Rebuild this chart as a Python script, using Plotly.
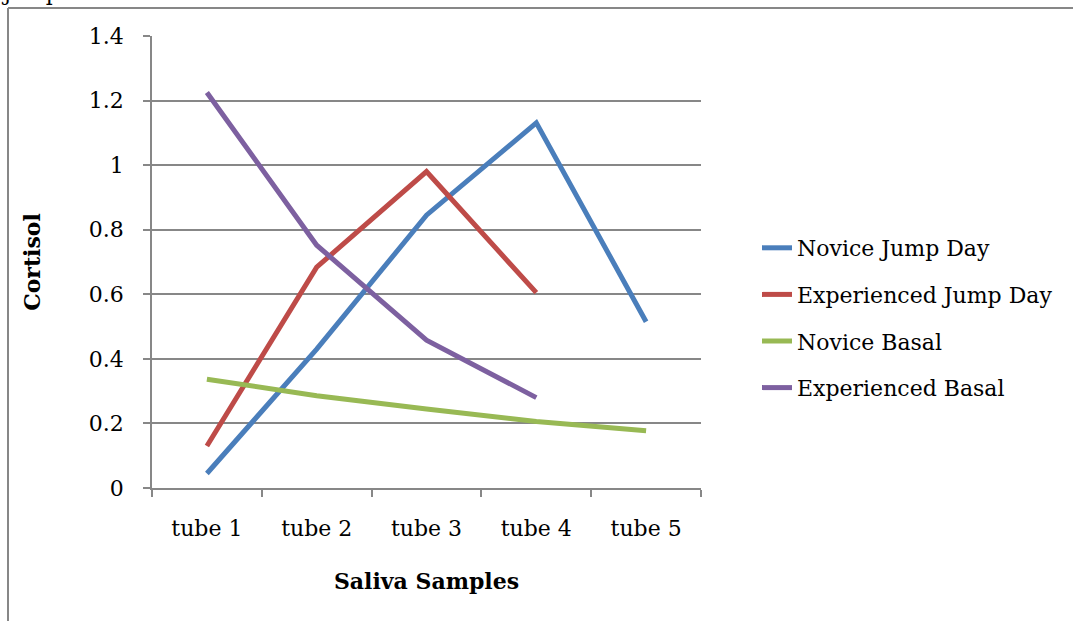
import plotly.graph_objects as go

categories = ["tube 1", "tube 2", "tube 3", "tube 4", "tube 5"]
novice_jump = [0.045, 0.43, 0.845, 1.131, 0.515]
experienced_jump = [0.13, 0.684, 0.98, 0.605, None]
novice_basal = [0.337, 0.286, 0.245, 0.206, 0.177]
experienced_basal = [1.225, 0.752, 0.458, 0.280, None]
y_ticks = [0, 0.2, 0.4, 0.6, 0.8, 1.0, 1.2, 1.4]
y_tick_text = ["0", "0.2", "0.4", "0.6", "0.8", "1", "1.2", "1.4"]

series = [
    ("Novice Jump Day", novice_jump, "#4A7EBB"),
    ("Experienced Jump Day", experienced_jump, "#BE4B48"),
    ("Novice Basal", novice_basal, "#98B954"),
    ("Experienced Basal", experienced_basal, "#7D60A0"),
]

FONT = "DejaVu Serif"
GRAY = "#878787"
FS = 22

fig = go.Figure()
for name, vals, color in series:
    fig.add_trace(go.Scatter(
        x=categories, y=vals, name=name, mode="lines",
        line=dict(color=color, width=5), legendgroup=name,
        connectgaps=False,
    ))

L, R, T, B = 152, 372, 36, 133
W, H = 1073, 621
pw, ph = W - L - R, H - T - B

def px_x(x):
    return (x - L) / pw

def px_y(y):
    return (H - B - y) / ph

fig.update_layout(
    width=W, height=H,
    margin=dict(l=L, r=R, t=T, b=B, pad=0),
    paper_bgcolor="white", plot_bgcolor="white",
    font=dict(family=FONT, size=FS, color="black"),
    showlegend=True,
    legend=dict(
        x=px_x(757), xanchor="left", y=px_y(318), yanchor="middle",
        traceorder="grouped", tracegroupgap=15,
        font=dict(family=FONT, size=FS, color="black"),
        bgcolor="rgba(0,0,0,0)",
    ),
    xaxis=dict(
        type="category", range=[-0.5, 4.5], tickson="boundaries",
        showline=True, linecolor=GRAY, linewidth=1.5,
        ticks="outside", ticklen=7, tickcolor=GRAY, tickwidth=1.5,
        showgrid=False, zeroline=False,
        ticklabelstandoff=20,
        tickfont=dict(family=FONT, size=FS),
        title=dict(text="<b>Saliva Samples</b>", font=dict(family=FONT, size=FS), standoff=33),
    ),
    yaxis=dict(
        range=[0, 1.4], tickvals=y_ticks, ticktext=y_tick_text,
        showline=True, linecolor=GRAY, linewidth=1.5,
        ticks="outside", ticklen=7, tickcolor=GRAY, tickwidth=1.5,
        showgrid=True, gridcolor=GRAY, gridwidth=1.5,
        zeroline=False, ticklabelstandoff=15,
        tickfont=dict(family=FONT, size=FS),
        title=dict(text="<b>Cortisol</b>", font=dict(family=FONT, size=FS), standoff=42),
    ),
)

# page frame lines
fig.add_shape(type="line", xref="paper", yref="paper",
              x0=px_x(8), x1=px_x(1073), y0=px_y(8), y1=px_y(8),
              line=dict(color=GRAY, width=2))
fig.add_shape(type="line", xref="paper", yref="paper",
              x0=px_x(8), x1=px_x(8), y0=px_y(8), y1=px_y(621),
              line=dict(color=GRAY, width=2))

# cut-off text from the page above the chart
fig.add_annotation(text="jumpers.", xref="paper", yref="paper",
                   x=px_x(0), y=px_y(6), xanchor="left", yanchor="bottom",
                   showarrow=False, borderpad=0,
                   font=dict(family=FONT, size=FS, color="black"))

fig.write_html("out.html")
